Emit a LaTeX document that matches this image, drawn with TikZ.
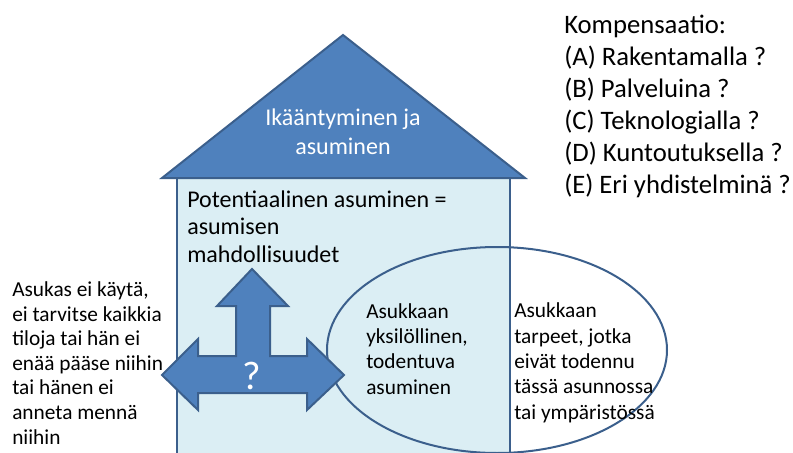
\documentclass[tikz,border=0pt]{standalone}
\usepackage{fontspec}
\setmainfont{Carlito}
\definecolor{roofblue}{HTML}{4F81BD}
\definecolor{edgeblue}{HTML}{3B5F8C}
\definecolor{wallblue}{HTML}{DBEEF4}
\begin{document}
\begin{tikzpicture}[x=0.75pt,y=-0.75pt,
    shape line/.style={draw=edgeblue, line width=1.5pt},
    body text/.style={inner sep=0pt, anchor=base west, align=left,
        font=\fontsize{16}{18.4}\selectfont}]

    % Fix the page to the size of the reference
    \useasboundingbox (0,0) rectangle (793,453);

    % Define the corners of the house
    \coordinate (RoofTop) at (343,35);
    \coordinate (RoofL) at (162,178);
    \coordinate (RoofR) at (525,178);
    \coordinate (WallL) at (177,178);
    \coordinate (WallR) at (510,178);

    % Draw the walls of the house (open at the bottom)
    \fill[wallblue] (WallL) rectangle (510,460);
    \draw[shape line] (WallL) -- (177,460);

    % Draw the ellipse of the individual housing
    \draw[shape line] (497,350) ellipse [x radius=170, y radius=103];
    \draw[shape line] (WallR) -- (510,460);

    % Draw the roof
    \draw[shape line, fill=roofblue, line join=miter] (RoofL) -- (RoofTop) -- (RoofR) -- cycle;
    \node[white, align=center, font=\fontsize{18}{22}\selectfont] (roof) at (343,132)
        {Ikääntyminen ja\\asuminen};

    % Draw the three-way arrow
    \draw[shape line, fill=roofblue, line join=miter]
        (162,375) -- (198,339) -- (198,356) -- (236,356) -- (236,306) -- (217,306)
        -- (252,269) -- (288,306) -- (270,306) -- (270,356) -- (307,356)
        -- (307,339) -- (344,375) -- (307,410) -- (307,393) -- (198,393)
        -- (198,410) -- cycle;
    \node[white, font=\fontsize{30}{32}\selectfont] (question) at (252,376) {?};

    % Add the texts inside the house
    % (the nodes sit on the baseline of their last line)
    \node[body text, font=\fontsize{18}{20.6}\selectfont] (potential) at (187,262)
        {Potentiaalinen asuminen =\\asumisen\\mahdollisuudet};
    \node[body text, font=\fontsize{16}{19}\selectfont] (individual) at (366,394)
        {Asukkaan\\yksilöllinen,\\todentuva\\asuminen};
    \node[body text, font=\fontsize{16}{19}\selectfont] (needs) at (514,419)
        {Asukkaan\\tarpeet, jotka\\eivät todennu\\tässä asunnossa\\tai ympäristössä};

    % Add the text on the left of the house
    \node[body text] (outside) at (12,444)
        {Asukas ei käytä,\\ei tarvitse kaikkia\\tiloja tai hän ei\\enää pääse niihin\\tai hänen ei\\anneta mennä\\niihin};

    % Add the list of compensations
    \node[body text, font=\fontsize{20}{24}\selectfont] (compensation) at (564,193)
        {Kompensaatio:\\(A) Rakentamalla ?\\(B) Palveluina ?\\(C) Teknologialla ?\\(D) Kuntoutuksella ?\\(E) Eri yhdistelminä ?};

\end{tikzpicture}
\end{document}
